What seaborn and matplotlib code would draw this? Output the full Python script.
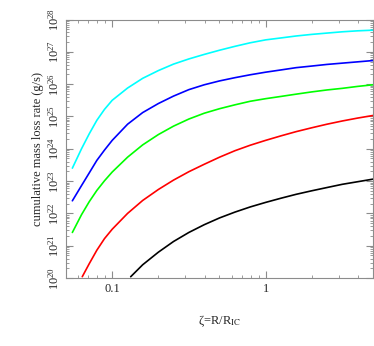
import numpy as np
import pandas as pd
import matplotlib
matplotlib.use("Agg")
import matplotlib.pyplot as plt
import matplotlib.ticker as mticker
import seaborn as sns

# -----------------------------
# Data (x = zeta, y = log10 of mass loss rate)
# -----------------------------
zeta = [0.0550, 0.0631, 0.0708, 0.0794, 0.0891, 0.100, 0.126, 0.158, 0.200,
        0.251, 0.316, 0.398, 0.501, 0.631, 0.794, 1.00, 1.26, 1.58, 2.00,
        2.51, 3.16, 3.98, 5.01]

cyan_y = [23.40, 24.00, 24.46, 24.88, 25.22, 25.50, 25.88, 26.18, 26.42,
          26.62, 26.78, 26.92, 27.05, 27.17, 27.28, 27.37, 27.43, 27.49,
          27.54, 27.58, 27.62, 27.65, 27.67]

blue_y = [22.39, 22.86, 23.25, 23.64, 23.96, 24.26, 24.76, 25.12, 25.40,
          25.63, 25.83, 25.98, 26.10, 26.20, 26.29, 26.37, 26.44, 26.51,
          26.56, 26.61, 26.65, 26.69, 26.73]

green_y = [21.41, 21.96, 22.36, 22.71, 23.01, 23.28, 23.74, 24.12, 24.44,
           24.70, 24.92, 25.10, 25.24, 25.36, 25.47, 25.55, 25.62, 25.69,
           25.76, 25.82, 25.87, 25.93, 25.98]

red_x = [0.0638, 0.0708, 0.0794, 0.0891, 0.100, 0.126, 0.158, 0.200, 0.251,
         0.316, 0.398, 0.501, 0.631, 0.794, 1.00, 1.26, 1.58, 2.00, 2.51,
         3.16, 3.98, 5.01]
red_y = [20.04, 20.44, 20.86, 21.22, 21.51, 22.00, 22.40, 22.74, 23.03,
         23.29, 23.52, 23.74, 23.94, 24.11, 24.26, 24.40, 24.53, 24.65,
         24.76, 24.86, 24.95, 25.03]

black_x = [0.132, 0.158, 0.200, 0.251, 0.316, 0.398, 0.501, 0.631, 0.794,
           1.00, 1.26, 1.58, 2.00, 2.51, 3.16, 3.98, 5.01]
black_y = [20.04, 20.41, 20.80, 21.13, 21.41, 21.65, 21.86, 22.04, 22.20,
           22.34, 22.47, 22.59, 22.70, 22.80, 22.90, 22.98, 23.06]

series = {
    "cyan": (zeta, cyan_y),
    "blue": (zeta, blue_y),
    "green": (zeta, green_y),
    "red": (red_x, red_y),
    "black": (black_x, black_y),
}
palette = {"cyan": "#00ffff", "blue": "#0000ff", "green": "#00ff00",
           "red": "#ff0000", "black": "#000000"}

rows = []
for name, (xs, ys) in series.items():
    for xv, yv in zip(xs, ys):
        rows.append({"zeta": xv, "rate": 10.0 ** yv, "curve": name})
df = pd.DataFrame(rows)

# -----------------------------
# Style
# -----------------------------
sns.set_style("ticks")
plt.rcParams["font.family"] = ["Liberation Serif", "DejaVu Serif"]
plt.rcParams["mathtext.fontset"] = "stix"

fig = plt.figure(figsize=(3.74, 3.46), dpi=100)
ax = fig.add_axes([0.1765, 0.1965, 0.8205, 0.7471])

sns.lineplot(data=df, x="zeta", y="rate", hue="curve", palette=palette,
             linewidth=1.2, legend=False, ax=ax, sort=False)

ax.set_xscale("log")
ax.set_yscale("log")
ax.set_xlim(0.05, 5)
ax.set_ylim(1e20, 1e28)

ax.set_xticks([0.1, 1])
ax.set_xticklabels(["0.1", "1"])
ax.xaxis.set_minor_locator(mticker.LogLocator(base=10, subs=np.arange(2, 10)))
ax.xaxis.set_minor_formatter(mticker.NullFormatter())

ax.yaxis.set_major_locator(mticker.LogLocator(base=10, numticks=20))
ax.yaxis.set_minor_locator(mticker.LogLocator(base=10, subs=np.arange(2, 10), numticks=20))
ax.yaxis.set_minor_formatter(mticker.NullFormatter())

grey = "#8c8c8c"
for sp in ax.spines.values():
    sp.set_color(grey)
    sp.set_linewidth(0.8)
ax.tick_params(which="both", direction="in", top=True, right=True, color=grey,
               labelsize=9)
ax.tick_params(which="major", length=5, width=0.8)
ax.tick_params(which="minor", length=2.5, width=0.6)
for lab in ax.get_yticklabels():
    lab.set_rotation(90)
    lab.set_va("center")

ax.set_xlabel(r"ζ=R/R$_{\rm IC}$", fontsize=9, labelpad=13)
ax.set_ylabel("cumulative mass loss rate (g/s)", fontsize=9, labelpad=2)

fig.savefig("out.png", dpi=100)
